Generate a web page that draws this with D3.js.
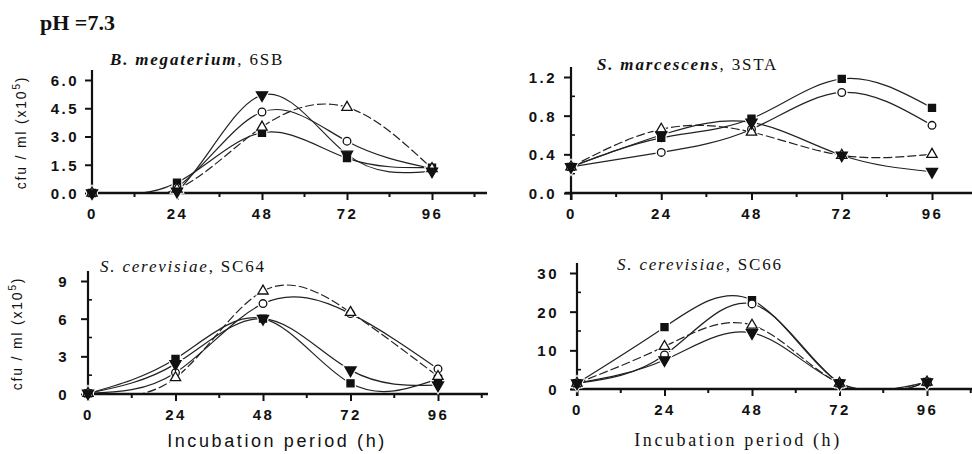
<!DOCTYPE html>
<html>
<head>
<meta charset="utf-8">
<script src="https://cdn.jsdelivr.net/npm/d3@7"></script>
<style>
  body { margin: 0; background: #fff; }
  svg { display: block; }
  .tick text { font-family: "Liberation Sans", Arial, sans-serif; font-weight: bold; font-size: 15px; letter-spacing: 2.5px; fill: #111; }
</style>
</head>
<body>
<div id="chart"></div>
<script>
var hours = [0, 24, 48, 72, 96];
var markers = ["square", "circle", "triangle", "down"];

// values per panel, one row per marker (square, circle, triangle, down-triangle)
var megaterium6SB = [
  [0, 0.55, 3.2, 1.85, 1.35],
  [0, 0.3, 4.3, 2.75, 1.3],
  [0, 0.2, 3.5, 4.55, 1.3],
  [0, 0.08, 5.2, 2.05, 1.15]
];
var marcescens3STA = [
  [0.27, 0.57, 0.77, 1.18, 0.88],
  [0.27, 0.42, 0.66, 1.04, 0.70],
  [0.27, 0.66, 0.63, 0.39, 0.40],
  [0.27, 0.60, 0.73, 0.39, 0.22]
];
var cerevisiaeSC64 = [
  [0.05, 2.8, 6.0, 0.85, 1.2],
  [0.05, 1.7, 7.2, 6.4, 2.0],
  [0.05, 1.3, 8.2, 6.5, 1.4],
  [0.05, 2.4, 6.0, 1.9, 0.7]
];
var cerevisiaeSC66 = [
  [1.5, 16, 23, 1.5, 1.8],
  [1.5, 8.8, 22, 1.5, 1.8],
  [1.5, 11, 16.5, 1.5, 1.8],
  [1.5, 7.5, 14.5, 1.5, 1.8]
];

var ticks1 = [0, 1.5, 3, 4.5, 6];
var ticks2 = [0, 0.4, 0.8, 1.2];
var ticks3 = [0, 3, 6, 9];
var ticks4 = [0, 10, 20, 30];

var panels = [
  { data: megaterium6SB, yTicks: ticks1, minor: [], fmt: ".1f",
    x0: 92, x96: 432, xEnd: 487, y0: 193, yTop: 80, labelGap: 13,
    it: "B. megaterium", rest: ", 6SB", tx: 110, ty: 65, bold: true, ylab: true },
  { data: marcescens3STA, yTicks: ticks2, minor: [0.2, 0.6, 1.0], fmt: ".1f",
    x0: 571, x96: 932, xEnd: 972, y0: 193, yTop: 77, labelGap: 14,
    it: "S. marcescens", rest: ", 3STA", tx: 597, ty: 70, bold: true },
  { data: cerevisiaeSC64, yTicks: ticks3, minor: [1.5, 4.5, 7.5], fmt: "d",
    x0: 88, x96: 438, xEnd: 488, y0: 394, yTop: 281, labelGap: 19,
    it: "S. cerevisiae", rest: ", SC64", tx: 100, ty: 272, ylab: true,
    xlab: { x: 277, y: 447, font: "'Liberation Sans', Arial, sans-serif", size: 18, ls: 2.6 } },
  { data: cerevisiaeSC66, yTicks: ticks4, minor: [5, 15, 25], fmt: "d",
    x0: 577, x96: 927, xEnd: 972, y0: 389, yTop: 273, labelGap: 18,
    it: "S. cerevisiae", rest: ", SC66", tx: 617, ty: 270,
    xlab: { x: 738, y: 446, font: "'Liberation Serif', 'Times New Roman', serif", size: 18, ls: 2.6 } }
];

var svg = d3.select("#chart").append("svg")
  .attr("width", 972).attr("height", 454);
svg.append("rect").attr("width", 972).attr("height", 454).attr("fill", "#fff");

svg.append("text")
  .attr("x", 40).attr("y", 30)
  .attr("font-family", "'Liberation Serif', 'Times New Roman', serif")
  .attr("font-weight", "bold").attr("font-size", 22)
  .attr("fill", "#111")
  .text("pH =7.3");

var symType = { square: d3.symbolSquare, circle: d3.symbolCircle, triangle: d3.symbolTriangle, down: d3.symbolTriangle };
var symSize = { square: 50, circle: 46, triangle: 46, down: 54 };
var symFill = { square: "#111", circle: "#fff", triangle: "#fff", down: "#111" };

panels.forEach(function(p, pi) {
  var yMax = p.yTicks[p.yTicks.length - 1];
  var x = d3.scaleLinear().domain([0, 96]).range([p.x0, p.x96]);
  var y = d3.scaleLinear().domain([0, yMax]).range([p.y0, p.yTop]);
  var g = svg.append("g");

  // clip so curves stay above the x axis
  var clipId = "clip" + pi;
  svg.append("clipPath").attr("id", clipId).append("rect")
    .attr("x", p.x0).attr("y", p.yTop - 20)
    .attr("width", p.xEnd - p.x0).attr("height", p.y0 - p.yTop + 20);

  var line = d3.line()
    .x(function(d, i) { return x(hours[i]); })
    .y(function(d) { return y(d); })
    .curve(d3.curveNatural);

  g.append("g").attr("clip-path", "url(#" + clipId + ")")
    .selectAll("path")
    .data(p.data)
    .enter()
    .append("path")
    .attr("d", line)
    .attr("fill", "none")
    .attr("stroke", "#222")
    .attr("stroke-width", 1.2)
    .attr("stroke-dasharray", function(d, i) { return markers[i] == "triangle" ? "9,3" : null; });

  // axes
  var xHours = x.invert(p.xEnd);
  var xAxis = d3.axisBottom(x).tickValues(hours).tickSize(7).tickPadding(8).tickSizeOuter(0);
  var xg = g.append("g").attr("transform", "translate(0," + p.y0 + ")").call(xAxis);
  xg.select(".domain").remove();
  xg.selectAll(".tick line").attr("stroke", "#111").attr("stroke-width", 2);
  var minorX = d3.range(12, xHours, 24);
  xg.selectAll(".minx").data(minorX).enter().append("line")
    .attr("x1", function(d) { return x(d); }).attr("x2", function(d) { return x(d); })
    .attr("y1", 0).attr("y2", 4).attr("stroke", "#111").attr("stroke-width", 2);
  g.append("line")
    .attr("x1", p.x0 - 6).attr("x2", p.xEnd)
    .attr("y1", p.y0).attr("y2", p.y0)
    .attr("stroke", "#111").attr("stroke-width", 2.4);

  var yAxis = d3.axisLeft(y).tickValues(p.yTicks).tickFormat(d3.format(p.fmt))
    .tickSize(7).tickPadding(p.labelGap - 7).tickSizeOuter(0);
  var yg = g.append("g").attr("transform", "translate(" + p.x0 + ",0)").call(yAxis);
  yg.select(".domain").remove();
  yg.selectAll(".tick line").attr("stroke", "#111").attr("stroke-width", 2);
  yg.selectAll(".tick text").attr("dy", "0.36em");
  yg.selectAll(".miny").data(p.minor).enter().append("line")
    .attr("x1", 0).attr("x2", 4)
    .attr("y1", function(d) { return y(d); }).attr("y2", function(d) { return y(d); })
    .attr("stroke", "#111").attr("stroke-width", 1.6);
  g.append("line")
    .attr("x1", p.x0).attr("x2", p.x0)
    .attr("y1", p.yTop - 10).attr("y2", p.y0 + 7)
    .attr("stroke", "#111").attr("stroke-width", 2.2);

  // markers with a white halo so lines break at each point
  var pts = [];
  p.data.forEach(function(row, si) {
    row.forEach(function(v, i) { pts.push({ m: markers[si], h: hours[i], v: v }); });
  });
  function place(d) {
    return "translate(" + x(d.h) + "," + y(d.v) + ")" + (d.m == "down" ? " rotate(180)" : "");
  }
  g.selectAll(".halo").data(pts).enter().append("path")
    .attr("transform", place)
    .attr("d", function(d) { return d3.symbol().type(symType[d.m]).size(symSize[d.m] * 2.3)(); })
    .attr("fill", "#fff");
  g.selectAll(".mark").data(pts).enter().append("path")
    .attr("transform", place)
    .attr("d", function(d) { return d3.symbol().type(symType[d.m]).size(symSize[d.m])(); })
    .attr("fill", function(d) { return symFill[d.m]; })
    .attr("stroke", "#111").attr("stroke-width", 1.3);

  // title
  var t = g.append("text")
    .attr("x", p.tx).attr("y", p.ty)
    .attr("font-family", "'Liberation Serif', 'Times New Roman', serif")
    .attr("font-size", 17).attr("letter-spacing", "1.8px")
    .attr("fill", "#111");
  t.append("tspan").attr("font-style", "italic").attr("font-weight", p.bold ? "bold" : "normal").text(p.it);
  t.append("tspan").text(p.rest);

  if (p.ylab) {
    var yc = (p.y0 + p.yTop) / 2 - 4;
    var yl = g.append("text")
      .attr("transform", "translate(" + (p.x0 - 66) + "," + yc + ") rotate(-90)")
      .attr("text-anchor", "middle")
      .attr("font-family", "'Liberation Sans', Arial, sans-serif")
      .attr("font-size", 14).attr("letter-spacing", "1.8px")
      .attr("fill", "#111");
    yl.append("tspan").text("cfu / ml (x10");
    yl.append("tspan").attr("dy", -6).attr("font-size", 10).text("5");
    yl.append("tspan").attr("dy", 6).text(")");
  }

  if (p.xlab) {
    g.append("text")
      .attr("x", p.xlab.x).attr("y", p.xlab.y)
      .attr("text-anchor", "middle")
      .attr("font-family", p.xlab.font)
      .attr("font-size", p.xlab.size).attr("letter-spacing", p.xlab.ls + "px")
      .attr("fill", "#111")
      .text("Incubation period (h)");
  }
});
</script>
</body>
</html>
